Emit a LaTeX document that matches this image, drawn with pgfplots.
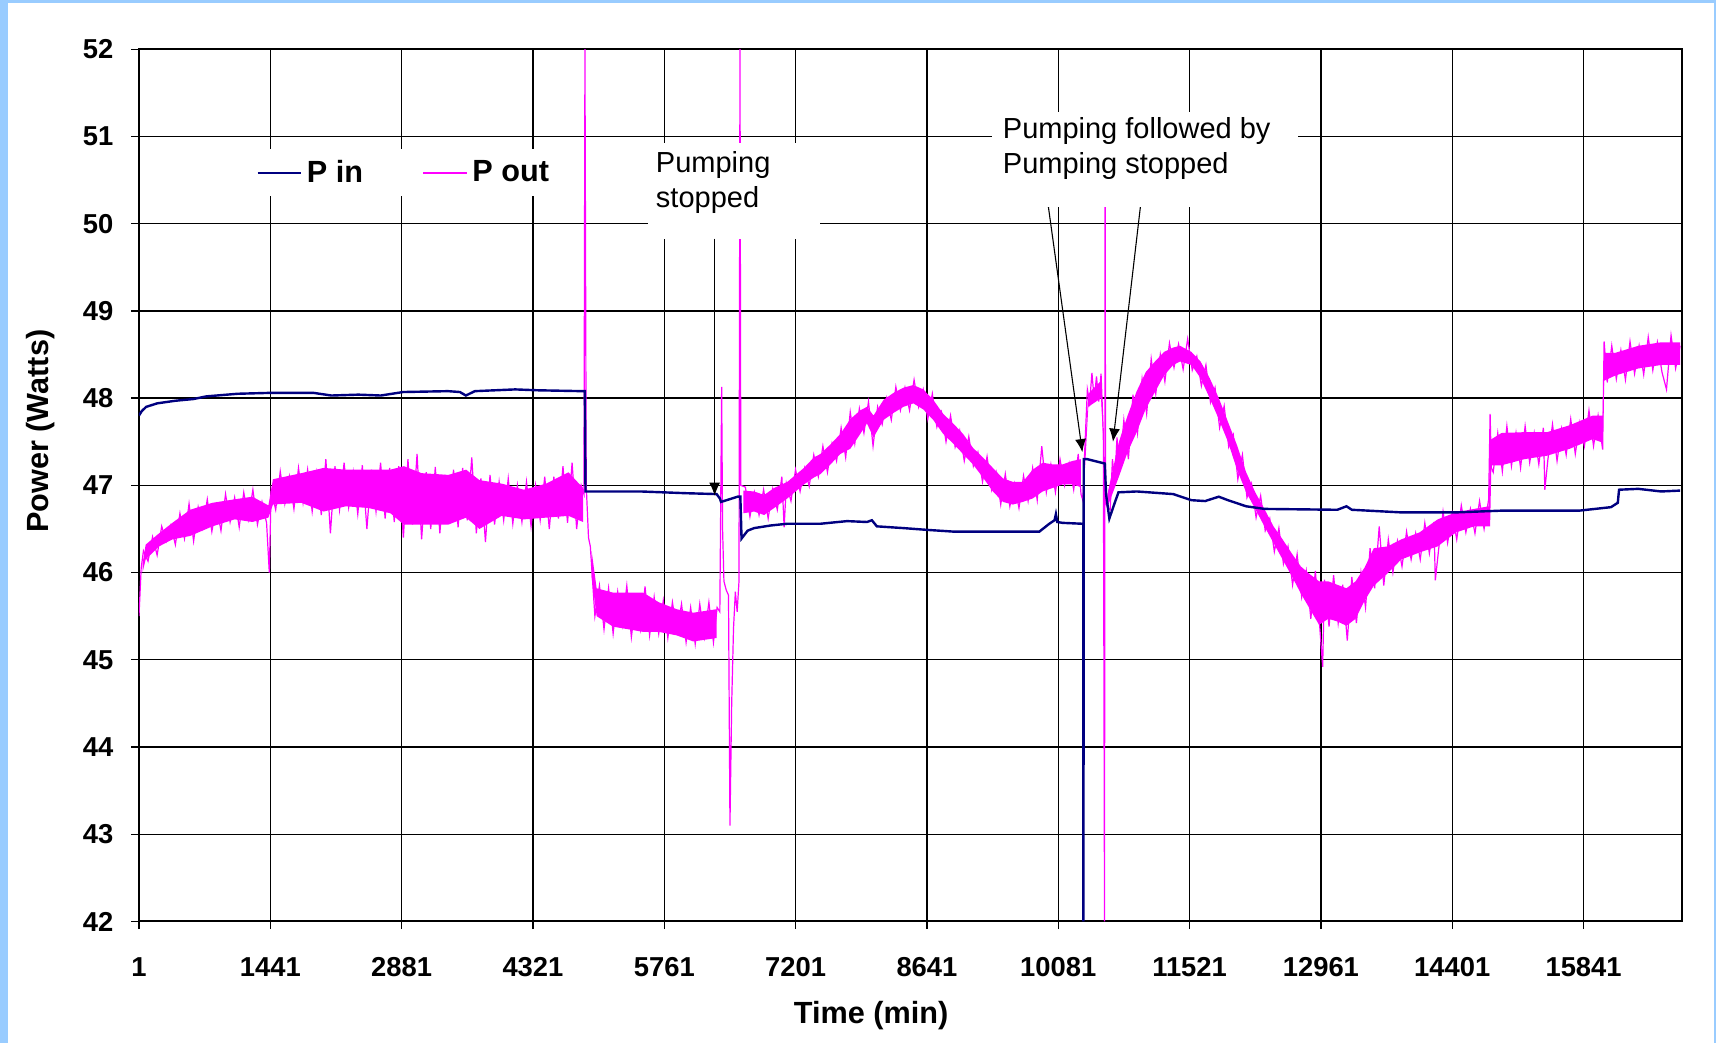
\documentclass[border=0pt]{standalone}
\usepackage{fontspec}
\setmainfont{Liberation Sans}
\usepackage{pgfplots}
\pgfplotsset{compat=1.18}
\usetikzlibrary{arrows.meta,backgrounds}
\definecolor{pincol}{RGB}{0,0,128}
\definecolor{poutcol}{RGB}{255,0,255}
\definecolor{frameblue}{RGB}{153,204,255}
\begin{document}
\begin{tikzpicture}
\begin{axis}[
  scale only axis, width=704.75pt, height=398.5pt,
  xmin=1, xmax=16915, ymin=42, ymax=52,
  scaled x ticks=false, scaled y ticks=false,
  xtick={1,1441,2881,4321,5761,7201,8641,10081,11521,12961,14401,15841},
  xticklabels={1,1441,2881,4321,5761,7201,8641,10081,11521,12961,14401,15841},
  ytick={42,43,44,45,46,47,48,49,50,51,52},
  xtick pos=left, ytick pos=left,
  grid=major, major grid style={black, line width=0.6pt},
  axis line style={black, line width=0.9pt},
  tick align=outside, major tick length=3.5pt, tick style={black, line width=0.6pt},
  /pgf/number format/assume math mode=true,
  ticklabel style={font=\bfseries\fontsize{12.5}{14}\selectfont},
  xticklabel style={anchor=north, inner sep=0pt, text height=9.1pt, text depth=0pt, yshift=-12.4pt},
  yticklabel style={anchor=east, inner sep=0pt, xshift=-8pt},
  xlabel={Time (min)}, ylabel={Power (Watts)},
  label style={font=\bfseries\fontsize{14}{16}\selectfont},
  xlabel style={at={(axis description cs:0.4746,-0.1079)}, anchor=center},
  ylabel style={at={(axis description cs:-0.0639,0.562)}, anchor=center},
  legend style={at={(0.0674,0.886)}, anchor=north west, draw=none, fill=white,
    inner xsep=6pt, inner ysep=3pt, font=\bfseries\fontsize{14}{16}\selectfont,
    /tikz/every even column/.append style={column sep=25pt}},
  legend columns=2,
  legend image code/.code={\draw[#1] (0pt,0pt) -- (20pt,0pt);},
]
% ---- P out core band (filled) ----
\addplot[fill=poutcol, draw=none, forget plot] coordinates {
(40,46.1)(74,46.32)(221,46.45)(367,46.57)(562,46.72)(806,46.8)(1050,46.84)(1245,46.87)(1420,46.77)(1470,47.07)(1782,47.14)(2026,47.2)(2270,47.18)(2520,47.18)(2758,47.18)(2905,47.22)(3100,47.14)(3393,47.12)(3588,47.18)(3734,47.06)(3978,47.02)(4222,46.95)(4466,47.02)(4710,47.15)(4870,46.97)
(4870,46.58)(4710,46.65)(4466,46.63)(4222,46.61)(3978,46.65)(3734,46.5)(3588,46.63)(3393,46.55)(3100,46.55)(2905,46.55)(2758,46.68)(2520,46.74)(2270,46.76)(2026,46.7)(1782,46.8)(1470,46.78)(1420,46.63)(1245,46.58)(1050,46.61)(806,46.53)(562,46.42)(367,46.38)(221,46.3)(74,46.15)(40,46.0)
} -- cycle;
\addplot[fill=poutcol, draw=none, forget plot] coordinates {
(4964,46.25)(5019,45.82)(5200,45.77)(5531,45.77)(5700,45.66)(5897,45.58)(6079,45.54)(6335,45.58)
(6335,45.25)(6079,45.21)(5897,45.28)(5700,45.32)(5531,45.32)(5200,45.38)(5019,45.5)(4964,45.95)
} -- cycle;
\addplot[fill=poutcol, draw=none, forget plot] coordinates {
(6627,46.94)(6746,46.93)(6856,46.89)(6965,46.97)(7110,47.04)(7201,47.12)(7292,47.2)(7401,47.32)(7474,47.36)(7583,47.47)(7692,47.59)(7801,47.76)(7910,47.86)(7983,47.9)(8055,47.8)(8165,47.98)(8274,48.06)(8383,48.12)(8492,48.15)(8601,48.1)(8710,47.98)(8819,47.82)(8928,47.71)(9037,47.59)(9146,47.43)(9255,47.32)(9364,47.2)(9474,47.08)(9583,47.04)(9692,47.04)(9801,47.18)(9910,47.26)(10019,47.24)(10128,47.24)(10237,47.28)(10328,47.3)
(10328,46.98)(10237,47.01)(10128,47.01)(10019,46.97)(9910,46.93)(9801,46.85)(9692,46.81)(9583,46.78)(9474,46.81)(9364,46.93)(9255,47.09)(9146,47.24)(9037,47.36)(8928,47.48)(8819,47.59)(8710,47.75)(8601,47.87)(8492,47.94)(8383,47.9)(8274,47.83)(8165,47.75)(8055,47.55)(7983,47.71)(7910,47.59)(7801,47.42)(7692,47.36)(7583,47.24)(7474,47.13)(7401,47.09)(7292,47.01)(7201,46.93)(7110,46.85)(6965,46.74)(6856,46.66)(6746,46.7)(6627,46.68)
} -- cycle;
\addplot[fill=poutcol, draw=none, forget plot] coordinates {
(10375,47.45)(10410,48.05)(10550,48.2)(10570,47.8)(10570,47.6)(10550,48.0)(10410,47.9)(10375,47.2)
} -- cycle;
\addplot[fill=poutcol, draw=none, forget plot] coordinates {
(10620,46.9)(10746,47.5)(10841,47.8)(10941,48.08)(11041,48.3)(11141,48.42)(11241,48.53)(11341,48.58)(11416,48.6)(11541,48.53)(11641,48.42)(11741,48.23)(11841,48.0)(11941,47.73)(12041,47.46)(12141,47.15)(12241,46.92)(12341,46.73)(12441,46.53)(12541,46.38)(12641,46.22)(12741,46.07)(12841,45.98)(12941,45.9)(13041,45.9)(13141,45.86)(13241,45.82)(13341,45.9)(13441,46.06)(13541,46.28)(13691,46.3)(13841,46.38)(14041,46.46)(14241,46.61)(14441,46.69)(14641,46.73)(14800,46.76)(14816,47.52)(14941,47.6)(15191,47.61)(15441,47.61)(15691,47.69)(15941,47.8)(16050,47.8)(16066,48.52)(16191,48.52)(16441,48.6)(16691,48.64)(16900,48.64)
(16900,48.38)(16691,48.38)(16441,48.34)(16191,48.26)(16066,48.2)(16050,47.49)(15941,47.53)(15691,47.42)(15441,47.34)(15191,47.3)(14941,47.23)(14830,47.23)(14816,46.53)(14641,46.53)(14441,46.46)(14241,46.3)(14041,46.23)(13841,46.15)(13691,45.99)(13541,45.85)(13441,45.68)(13341,45.47)(13241,45.39)(13141,45.44)(13041,45.47)(12941,45.4)(12841,45.58)(12741,45.76)(12641,45.96)(12541,46.15)(12441,46.34)(12341,46.53)(12241,46.73)(12141,46.92)(12041,47.18)(11941,47.5)(11841,47.76)(11741,48.0)(11641,48.23)(11541,48.38)(11416,48.42)(11341,48.38)(11241,48.26)(11141,48.07)(11041,47.88)(10941,47.61)(10841,47.38)(10746,47.1)(10620,46.75)
} -- cycle;
% ---- P out (noisy trace) ----
\addplot[poutcol, line width=0.55pt, forget plot] coordinates {
(1,45.5)(25,46.05)(50,46.25)(100,46.13)(150,46.41)(200,46.2)(250,46.53)(300,46.36)(350,46.54)(400,46.32)(450,46.68)(500,46.39)(550,46.79)(600,46.36)(650,46.75)(700,46.51)(750,46.84)(800,46.47)(850,46.77)(900,46.48)(950,46.9)(1000,46.58)(1050,46.86)(1100,46.52)(1150,46.92)(1200,46.61)(1250,46.95)(1300,46.55)(1350,46.81)(1400,46.57)(1430,46.0)(1450,46.95)(1500,46.72)(1550,47.16)(1600,46.79)(1650,47.1)(1700,46.73)(1750,47.2)(1800,46.8)(1850,47.18)(1900,46.7)(1950,47.14)(2000,46.66)(2050,47.3)(2100,46.45)(2150,47.22)(2200,46.72)(2250,47.26)(2300,46.75)(2350,47.15)(2400,46.67)(2450,47.23)(2500,46.5)(2550,47.18)(2600,46.7)(2650,47.26)(2700,46.62)(2750,47.2)(2800,46.58)(2850,47.22)(2900,46.4)(2950,47.3)(3000,46.55)(3050,47.36)(3100,46.38)(3150,47.15)(3200,46.5)(3250,47.21)(3300,46.45)(3350,47.12)(3400,46.56)(3450,47.18)(3500,46.52)(3550,47.2)(3600,46.6)(3650,47.32)(3700,46.45)(3750,47.08)(3800,46.35)(3850,47.12)(3900,46.55)(3950,47.04)(4000,46.6)(4050,47.08)(4100,46.56)(4150,47.0)(4200,46.58)(4250,47.04)(4300,46.53)(4350,47.0)(4400,46.6)(4450,47.1)(4500,46.5)(4550,47.1)(4600,46.62)(4650,47.22)(4700,46.57)(4750,47.26)(4800,46.5)(4850,47.0)(4880,46.9)(4891,52)(4905,47.0)(4930,46.4)(4950,46.3)(4975,45.9)(5000,45.5)(5050,45.85)(5100,45.35)(5150,45.82)(5200,45.3)(5250,45.78)(5300,45.4)(5350,45.85)(5400,45.26)(5450,45.7)(5500,45.35)(5550,45.84)(5600,45.28)(5650,45.72)(5700,45.3)(5750,45.68)(5800,45.25)(5850,45.66)(5900,45.32)(5950,45.64)(6000,45.2)(6050,45.6)(6100,45.18)(6150,45.64)(6200,45.26)(6250,45.66)(6300,45.2)(6340,45.6)(6370,45.55)(6390,48.13)(6400,46.5)(6415,45.9)(6440,45.8)(6465,45.74)(6481,43.1)(6500,44.5)(6520,45.36)(6540,45.78)(6560,45.55)(6580,45.9)(6591,52)(6600,47.0)(6650,46.98)(6700,46.64)(6750,46.92)(6800,46.66)(6850,46.95)(6900,46.62)(6950,46.96)(7000,46.72)(7050,47.1)(7075,46.52)(7100,47.02)(7150,46.82)(7200,47.18)(7250,46.93)(7300,47.2)(7350,46.99)(7400,47.35)(7450,47.1)(7500,47.45)(7550,47.15)(7600,47.48)(7650,47.28)(7700,47.66)(7750,47.32)(7800,47.84)(7850,47.48)(7900,47.88)(7950,47.6)(8000,47.96)(8050,47.45)(8100,47.9)(8150,47.7)(8200,48.0)(8250,47.75)(8300,48.13)(8350,47.86)(8400,48.12)(8450,47.86)(8500,48.21)(8550,47.9)(8600,48.1)(8650,47.76)(8700,48.05)(8750,47.67)(8800,47.84)(8850,47.5)(8900,47.8)(8950,47.44)(9000,47.63)(9050,47.28)(9100,47.56)(9150,47.22)(9200,47.38)(9250,47.04)(9300,47.33)(9350,46.95)(9400,47.15)(9450,46.78)(9500,47.13)(9550,46.76)(9600,47.02)(9650,46.74)(9700,47.11)(9750,46.82)(9800,47.2)(9850,46.83)(9900,47.45)(9950,46.92)(10000,47.24)(10050,46.92)(10100,47.3)(10150,47.0)(10200,47.25)(10250,46.95)(10300,47.36)(10330,46.9)(10350,46.83)(10375,47.5)(10400,48.1)(10425,47.95)(10450,48.29)(10475,47.98)(10500,48.25)(10525,47.96)(10550,48.28)(10575,47.6)(10588,42)(10594,50.8)(10600,46.8)(10620,46.75)(10650,46.72)(10675,47.3)(10700,47.04)(10725,47.55)(10750,47.15)
(10800,47.75)(10850,47.3)(10900,48.04)(10950,47.6)(11000,48.22)(11050,47.82)(11100,48.45)(11150,48.05)(11200,48.5)(11250,48.19)(11300,48.63)(11350,48.35)(11400,48.62)(11450,48.33)(11500,48.68)(11550,48.32)(11600,48.48)(11650,48.14)(11700,48.38)(11750,47.95)(11800,48.12)(11850,47.66)(11900,47.91)(11950,47.44)(12000,47.58)(12050,47.07)(12100,47.35)(12150,46.86)(12200,47.02)(12250,46.63)(12300,46.88)(12350,46.48)(12400,46.62)(12450,46.24)(12500,46.51)(12550,46.1)(12600,46.3)(12650,45.86)(12700,46.21)(12750,45.72)(12800,46.02)(12850,45.47)(12900,46.02)(12950,45.35)(12980,44.92)(13000,45.92)(13050,45.38)(13100,45.97)(13150,45.42)(13200,45.86)(13250,45.22)(13300,45.95)(13350,45.42)(13400,46.0)(13450,45.6)(13500,46.28)(13550,45.82)(13600,46.53)(13650,45.85)(13700,46.38)(13750,46.0)(13800,46.36)(13850,46.07)(13900,46.47)(13950,46.15)(14000,46.45)(14050,46.15)(14100,46.57)(14150,46.22)(14200,46.58)(14215,45.91)(14250,46.25)(14300,46.7)(14350,46.34)(14400,46.68)(14450,46.38)(14500,46.77)(14550,46.46)(14600,46.73)(14650,46.45)(14700,46.82)(14750,46.5)(14800,46.84)(14816,47.82)(14830,47.2)(14850,47.15)(14900,47.6)(14950,47.16)(15000,47.68)(15050,47.22)(15100,47.6)(15150,47.2)(15200,47.68)(15250,47.26)(15300,47.6)(15350,47.24)(15400,47.66)(15416,46.95)(15450,47.3)(15500,47.7)(15550,47.28)(15600,47.65)(15650,47.35)(15700,47.76)(15750,47.36)(15800,47.72)(15850,47.45)(15900,47.86)(15950,47.45)(16000,47.8)(16050,47.41)(16066,48.65)(16100,48.18)(16150,48.6)(16200,48.22)(16250,48.55)(16300,48.21)(16350,48.65)(16400,48.28)(16450,48.6)(16500,48.27)(16550,48.7)(16600,48.32)(16650,48.64)(16700,48.3)(16750,48.1)(16800,48.72)(16850,48.34)(16900,48.6)
};
% ---- P in ----
\addplot[pincol, line width=1.1pt, forget plot] coordinates {
(1,47.8)(30,47.85)(80,47.9)(200,47.94)(400,47.97)(600,47.99)(738,48.02)(1081,48.05)(1425,48.06)(1916,48.06)(2112,48.03)(2407,48.04)(2652,48.03)(2898,48.07)(3389,48.08)(3520,48.07)(3585,48.03)(3684,48.08)(4126,48.1)(4371,48.09)(4862,48.08)(4890,48.08)(4897,46.93)(5500,46.93)(6000,46.91)(6335,46.9)(6370,46.85)(6383,46.81)(6565,46.87)(6595,46.87)(6608,46.39)(6674,46.48)(6746,46.51)(6928,46.54)(7110,46.56)(7474,46.56)(7765,46.59)(7983,46.58)(8037,46.6)(8092,46.53)(8383,46.51)(8637,46.49)(8928,46.47)(9874,46.47)(9983,46.56)(10040,46.6)(10055,46.67)(10070,46.58)(10128,46.57)(10340,46.56)(10355,46.56)(10357,42)(10360,47.3)(10400,47.3)(10591,47.25)(10605,46.9)(10641,46.62)(10700,46.8)(10741,46.92)(10941,46.93)(11341,46.9)(11541,46.83)(11691,46.82)(11841,46.87)(11941,46.83)(12141,46.76)(12341,46.73)(13141,46.72)(13241,46.76)(13300,46.72)(13841,46.69)(14441,46.69)(14941,46.71)(15791,46.71)(16141,46.75)(16216,46.8)(16230,46.95)(16441,46.96)(16691,46.93)(16900,46.94)
};
\addlegendimage{pincol, line width=1pt}
\addlegendentry{P in}
\addlegendimage{poutcol, line width=1pt}
\addlegendentry{P out}
% ---- annotations ----
\fill[white] (axis cs:5581,49.83) rectangle (axis cs:7465,50.92);
\node[anchor=west, align=left, inner sep=0pt, font=\fontsize{13.25}{16}\selectfont] at (axis cs:5665,50.47) {Pumping\\stopped};
\fill[white] (axis cs:9349,50.19) rectangle (axis cs:12709,51.28);
\node[anchor=west, align=left, inner sep=0pt, font=\fontsize{13.25}{16}\selectfont] at (axis cs:9469,50.86) {Pumping followed by\\Pumping stopped};
\draw[black, line width=0.6pt, -{Latex[length=6pt,width=5pt]}] (axis cs:6313,49.83) -- (axis cs:6313,46.88);
\draw[black, line width=0.5pt, -{Latex[length=6pt,width=5pt]}] (axis cs:9973,50.19) -- (axis cs:10345,47.38);
\draw[black, line width=0.5pt, -{Latex[length=6pt,width=5pt]}] (axis cs:10981,50.19) -- (axis cs:10681,47.5);
\coordinate (SW) at (rel axis cs:0,0);
\coordinate (NE) at (rel axis cs:1,1);
\end{axis}
\begin{scope}[on background layer]
\fill[frameblue] ([shift={(-63.5pt,-55.5pt)}]SW) rectangle ([shift={(15.75pt,22.5pt)}]NE);
\fill[white] ([shift={(-59.75pt,-55.5pt)}]SW) rectangle ([shift={(14.85pt,20.9pt)}]NE);
\end{scope}
\end{tikzpicture}
\end{document}
